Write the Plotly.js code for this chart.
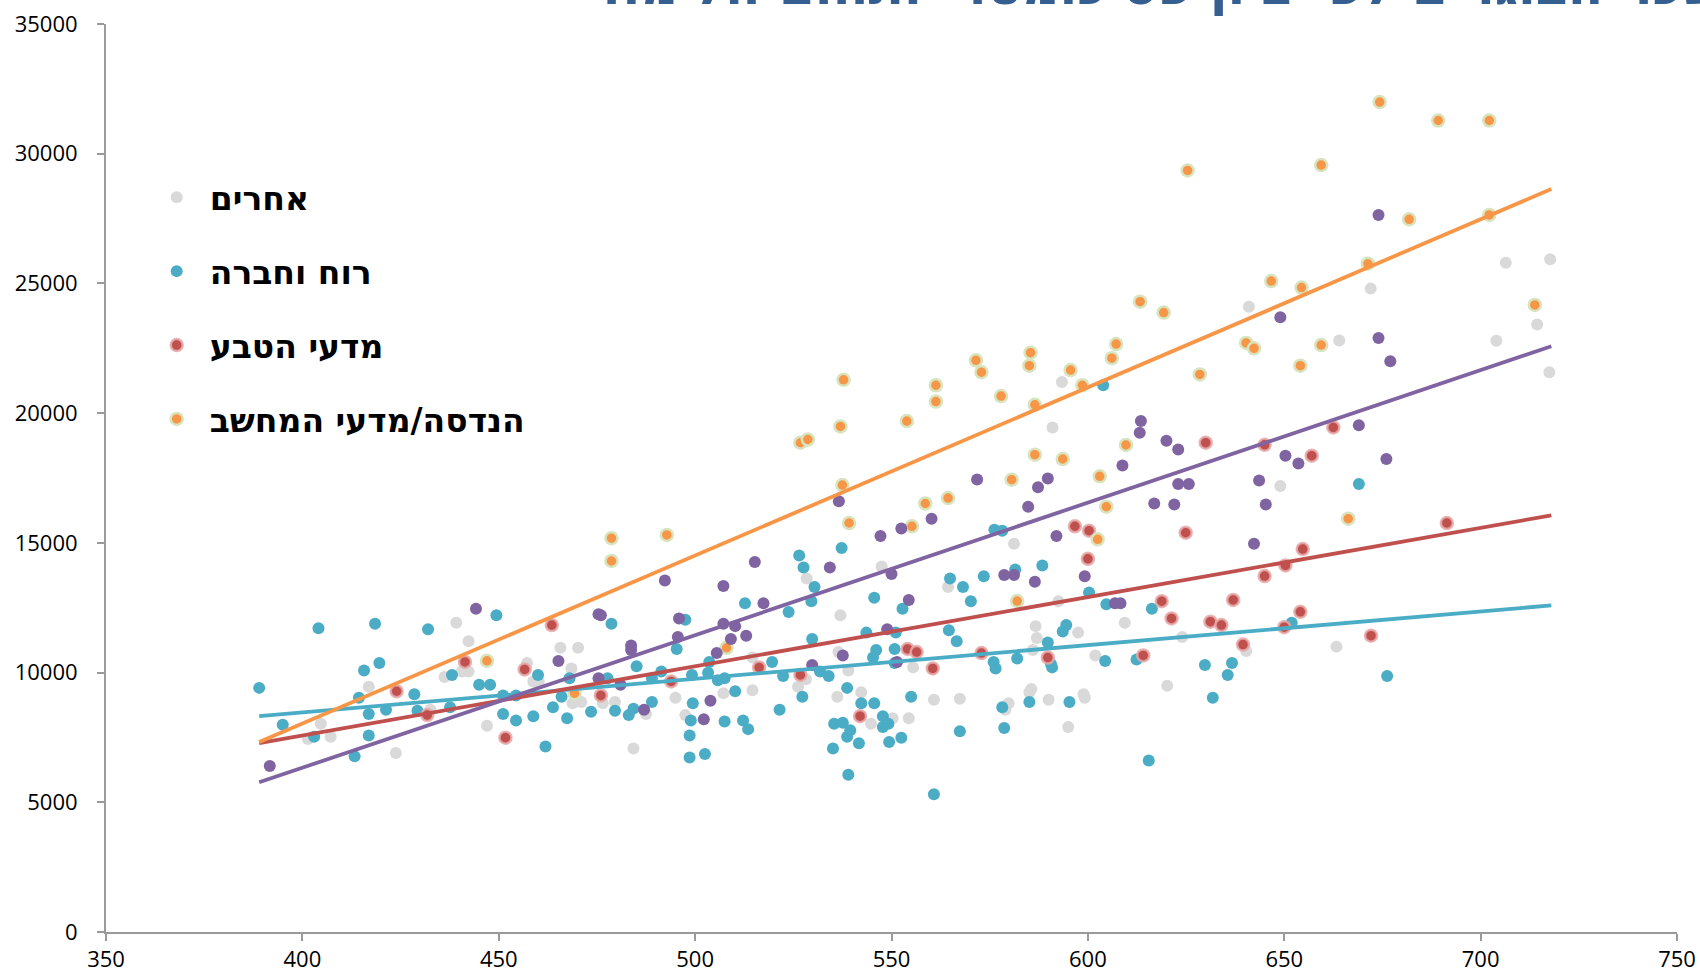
<!DOCTYPE html>
<html>
<head>
<meta charset="utf-8">
<script src="https://cdn.plot.ly/plotly-3.0.1.min.js"></script>
<style>html,body{margin:0;padding:0;background:#fff;}#chart{width:1700px;height:974px;}</style>
</head>
<body>
<div id="chart"></div>
<script>
// ---- data ----
const names = ['אחרים', 'רוח וחברה', 'מדעי הטבע', 'הנדסה/מדעי המחשב', 'אחר'];
const titleText = 'שכר הבוגרים לפי ציון פסיכומטרי ותחום הלימוד';

const greyX = [672,704,641,664,593.4,591,649,581.2,564.4,528.4,537,514.6,526.2,528.2,539,555.5,586.7,587,586,592.5,597.5,601.9,598.9,599.2,595,590,585.6,585.1,579.8,579,567.4,560.8,554.4,550.3,544.8,542.3,536.2,514.6,507.2,495,487.5,479.6,476.5,484.3,497.5,439.2,442.3,436.2,440.6,442.3,416.9,432.6,404.7,407.2,401.4,457.2,458.8,460.2,465.7,470.2,468.5,468.8,471,447,423.8,547.5,536.5,609.4,624,620.2,640.3,663.3,706.4,717.7,714.4,717.5];
const greyY = [24800,22790,24100,22800,21200,19450,17190,14970,13300,13630,12210,10580,9450,9740,10080,10200,11790,11330,10870,12750,11540,10660,9160,9030,7900,8950,9370,9240,8820,8570,8990,8950,8240,8240,8030,9240,9070,9320,9200,9030,8400,8870,8820,7070,8360,11920,11210,9830,10040,10040,9450,8570,8030,7530,7440,10370,9660,9660,10960,10960,10160,8820,8870,7950,6900,14090,10790,11920,11370,9490,10830,11000,25800,25930,23420,21580];

const tealX = [603.9,669,576.2,578.2,588.4,600.3,581.5,573.5,564.9,568.2,570.2,526.5,527.6,530.4,537.3,512.7,529.6,523.8,545.6,552.8,478.7,497.5,495.3,529.8,503.6,519.6,485.1,491.4,489,499.2,503.3,505.8,507.5,522.4,531.8,534,543.6,546.1,545.3,551.1,550.8,550.8,564.6,566.6,576,576.5,582,589.8,593.6,594.5,590.6,590.9,595.3,585.1,578.7,578.2,567.4,555,549.4,552.5,547.8,549.2,547.8,545.6,542.3,539.5,538.7,541.7,535.4,537.6,535.1,538.7,527.3,521.5,510.2,512.2,513.5,507.5,499.4,498.9,498.6,489,484.3,483.1,479.6,477.7,498.6,502.5,539,560.8,615.5,389,404.1,418.5,432,449.4,438.1,415.7,419.6,428.5,414.4,416.9,421.3,429.3,437.6,395,403,416.9,413.3,445,447.8,460,451.1,454.4,451.1,454.4,458.8,463.8,467.4,473.5,466,468,461.9,604.7,616.3,612.4,604.4,629.8,631.8,636.7,635.6,651.9,676.2];
const tealY = [21075,17270,15510,15470,14130,13090,13970,13715,13630,13300,12750,14510,14050,13300,14800,12670,12750,12335,12880,12460,11880,12040,10910,11290,10410,10410,10245,10040,9785,9910,9990,9700,9785,9870,10040,9870,11540,10870,10580,11540,10910,10370,11630,11210,10410,10160,10540,11160,11580,11830,10330,10200,8870,8870,7860,8660,7740,9070,7320,7490,8320,8030,7900,8820,8820,7780,7530,7280,8030,8070,7070,9410,9070,8570,9280,8150,7820,8110,8820,8150,7570,8870,8610,8360,8530,9785,6730,6860,6060,5310,6610,9410,11710,11880,11670,12210,9910,10080,10370,9160,9030,8400,8570,8530,8660,7990,7530,7570,6770,9530,9530,9910,9120,9120,8400,8150,8320,8660,8240,8490,9070,9785,7150,12630,12460,10500,10450,10290,9030,10370,9910,11920,9870];

const redX = [630,645,657,662.5,596.7,600.3,600,624.9,618.8,621.3,614.1,631.2,634,639.5,637,645,650.3,654.7,654.1,650,672.1,691.4,589.8,572.9,560.5,554.1,556.4,542,526.8,516.3,493.9,476,463.5,456.6,441.4,424,431.8,451.7];
const redY = [18860,18780,18360,19450,15640,15470,14385,15390,12750,12085,10660,11960,11830,11080,12800,13720,14130,14760,12340,11750,11420,15765,10580,10750,10160,10910,10790,8320,9910,10200,9660,9120,11830,10120,10410,9280,8360,7490];

const orangeX = [674.3,689.2,702.2,625.4,659.4,681.8,702.2,671.3,646.7,654.4,613.3,619.3,713.8,640.3,642.3,607.2,659.4,654.1,585.4,585.1,571.5,572.9,595.6,606.1,628.5,537.8,598.6,561.3,561.3,577.9,586.5,537,553.9,609.7,586.5,593.6,526.8,528.7,603,580.6,537.5,564.4,558.6,604.7,539.2,555.2,602.5,666.3,478.7,492.8,478.7,582,447,508,469.3];
const orangeY = [31990,31280,31280,29355,29564,27473,27640,25759,25090,24839,24295,23877,24170,22706,22497,22664,22622,21828,22330,21828,22037,21577,21660,22120,21493,21284,21075,21075,20448,20657,20323,19486,19695,18775,18399,18232,18859,18984,17563,17437,17228,16726,16517,16392,15765,15639,15138,15932,15180,15305,14301,12754,10454,10956,9200];

const purpleX = [674,649,674,677,613.5,613.2,620,623,650.3,653.6,669,676,643.6,645.3,623,625.7,622,608.8,589.8,587.3,584.8,536.6,571.8,560.2,552.5,547.2,592,599.2,578.7,581.2,586.5,534.3,515.2,492.3,507.2,517.4,554.4,495.9,476,495.6,483.7,483.7,507.2,510.2,509.1,513,505.5,529.8,548.9,551.4,502.2,503.9,487,481,444.2,475.4,475.4,465.2,391.7,550,537.6,606.9,608.3,616.9,642.3];
const purpleY = [27640,23700,22900,22000,19700,19240,18940,18600,18360,18060,19530,18230,17400,16480,17270,17270,16480,17980,17480,17145,16390,16600,17440,15930,15555,15260,15260,13715,13760,13760,13505,14050,14260,13550,13340,12670,12800,12080,12210,11370,11040,10870,11880,11790,11290,11420,10750,10290,11670,10410,8200,8910,8570,9530,12460,12250,9785,10450,6400,13800,10660,12670,12670,16520,14970];

// trend lines: ends
const trendX = [389, 718];
const trendTeal = [8320, 12590];
const trendRed = [7280, 16060];
const trendPurple = [5770, 22580];
const trendOrange = [7320, 28640];

const xTicks = [350,400,450,500,550,600,650,700,750];
const yTicks = [0,5000,10000,15000,20000,25000,30000,35000];

// ---- styles ----
const C = {grey:'#d9d9d9', teal:'#4bacc6', red:'#c0504d', orange:'#f79646', purple:'#8064a2'};
function pts(x, y, name, color, line, group, show) {
  return {type:'scatter', mode:'markers', x:x, y:y, name:name, legendgroup:group, showlegend:show,
    marker:{size:12, color:color, line:line}, hoverinfo:'x+y'};
}
function tl(y, color) {
  return {type:'scatter', mode:'lines', x:trendX, y:y, showlegend:false, hoverinfo:'skip',
    line:{color:color, width:3.8}};
}
const data = [
  pts(greyX, greyY, names[0], C.grey, {width:0}, 'g1', true),
  pts(tealX, tealY, names[1], C.teal, {width:0}, 'g2', true),
  pts(redX, redY, names[2], C.red, {width:2.5, color:'rgba(230,170,170,0.85)'}, 'g3', true),
  pts(orangeX, orangeY, names[3], C.orange, {width:2.5, color:'#d7e4bd'}, 'g4', true),
  pts(purpleX, purpleY, names[4], C.purple, {width:0}, 'g5', false),
  tl(trendTeal, C.teal), tl(trendRed, C.red), tl(trendPurple, C.purple), tl(trendOrange, C.orange)
];

const axisFont = {family:'Open Sans, sans-serif', size:22, color:'#000'};
const layout = {
  width:1700, height:974,
  margin:{l:106, r:23, t:24, b:42},
  paper_bgcolor:'#fff', plot_bgcolor:'#fff',
  showlegend:true,
  legend:{x:0.024, y:0.84, xanchor:'left', yanchor:'top', traceorder:'grouped', tracegroupgap:28,
    itemwidth:56, bgcolor:'rgba(0,0,0,0)',
    font:{family:'DejaVu Sans, sans-serif', size:33, weight:700, color:'#000'}},
  xaxis:{range:[350,750], tickvals:xTicks, ticktext:xTicks.map(String), showgrid:false, zeroline:false,
    showline:true, linecolor:'#9a9a9a', linewidth:2, ticks:'outside', ticklen:7, tickwidth:2, tickcolor:'#9a9a9a',
    tickfont:axisFont, ticklabelstandoff:0},
  yaxis:{range:[0,35000], tickvals:yTicks, ticktext:yTicks.map(String), showgrid:false, zeroline:false,
    showline:true, linecolor:'#9a9a9a', linewidth:2, ticks:'outside', ticklen:7, tickwidth:2, tickcolor:'#9a9a9a',
    tickfont:axisFont, ticklabelstandoff:15},
  annotations:[{text:'<b>'+titleText+'</b>', xref:'paper', yref:'paper', x:(590-106)/1571, y:(932-18)/908,
    xanchor:'left', yanchor:'bottom', showarrow:false,
    font:{family:'DejaVu Sans, sans-serif', size:52, color:'#365f91'}}]
};
Plotly.newPlot('chart', data, layout, {displayModeBar:false, staticPlot:true});
</script>
</body>
</html>
